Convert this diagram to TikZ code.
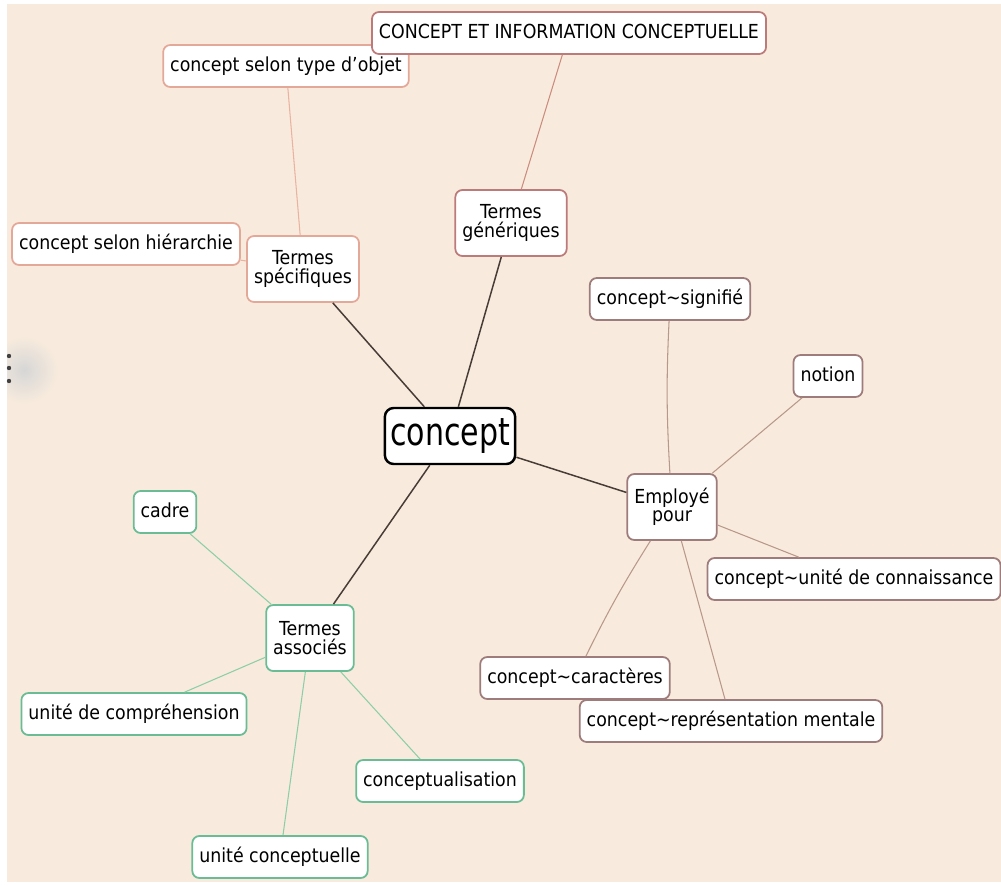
\documentclass[tikz,border=0pt]{standalone}
\usepackage{fontspec}
\usepackage{graphicx}
\setmainfont{DejaVu Sans Condensed}
\definecolor{bgpeach}{RGB}{248,235,221}
\definecolor{specdraw}{RGB}{228,168,152}
\definecolor{gendraw}{RGB}{188,122,122}
\definecolor{empdraw}{RGB}{158,124,124}
\definecolor{assocdraw}{RGB}{105,188,148}
\definecolor{speclink}{RGB}{234,178,160}
\definecolor{genlink}{RGB}{202,140,126}
\definecolor{emplink}{RGB}{184,152,138}
\definecolor{assoclink}{RGB}{140,206,168}
\definecolor{mainlink}{RGB}{72,60,54}
\begin{document}
\begin{tikzpicture}[x=0.02cm, y=-0.02cm,
    onebox/.style={draw, fill=white, rounded corners=4pt, line width=1pt,
      inner xsep=4pt, inner ysep=0pt, minimum height=0.84cm,
      text height=8.4pt, text depth=2.6pt, font=\fontsize{11}{10.5}\selectfont},
    twobox/.style={draw, fill=white, rounded corners=4pt, line width=1pt,
      inner xsep=4pt, inner ysep=0pt, minimum height=1.32cm, align=center,
      font=\fontsize{11}{10.5}\selectfont},
    spec/.style={draw=specdraw},
    gen/.style={draw=gendraw},
    emp/.style={draw=empdraw},
    assoc/.style={draw=assocdraw},
    mainline/.style={draw=mainlink, line width=0.85pt},
    thinline/.style={line width=0.6pt}]
    \useasboundingbox (0,0) rectangle (1001,886);
    \fill[white] (0,0) rectangle (1001,886);
    \fill[bgpeach] (7,4) rectangle (1001,882);

    % side handle
    \begin{scope}
        \clip (7,4) rectangle (1001,882);
        \shade[inner color=black!16, outer color=bgpeach] (24,370) circle (34);
    \end{scope}
    \fill[black!75] (9,356) circle (2.2);
    \fill[black!75] (9,368) circle (2.2);
    \fill[black!75] (9,381) circle (2.2);

    % centre
    \node[draw=black, fill=white, rounded corners=5pt, line width=1.4pt,
      inner xsep=3pt, inner ysep=0pt, minimum height=1.12cm,
      text height=16pt, text depth=5pt, font=\fontsize{19}{20}\selectfont] (concept) at (450,436) {\scalebox{1}[1.15]{concept}};

    % termes specifiques
    \node[twobox, spec] (tspec) at (303,269) {Termes\\spécifiques};
    \node[onebox, spec] (typobj) at (286,66) {concept selon type d'objet};
    \node[onebox, spec] (hierar) at (126,244) {concept selon hiérarchie};

    % termes generiques
    \node[twobox, gen] (tgen) at (511,223) {Termes\\génériques};
    \node[onebox, gen] (cinfo) at (569,33) {CONCEPT ET INFORMATION CONCEPTUELLE};

    % employe pour
    \node[twobox, emp] (empl) at (672,507) {Employé\\pour};
    \node[onebox, emp] (signif) at (670,299) {concept\textasciitilde signifié};
    \node[onebox, emp] (notion) at (828,376) {notion};
    \node[onebox, emp] (uconn) at (854,579) {concept\textasciitilde unité de connaissance};
    \node[onebox, emp] (caract) at (575,678) {concept\textasciitilde caractères};
    \node[onebox, emp] (repres) at (731,721) {concept\textasciitilde représentation mentale};

    % termes associes
    \node[twobox, assoc] (tassoc) at (310,638) {Termes\\associés};
    \node[onebox, assoc] (cadre) at (165,512) {cadre};
    \node[onebox, assoc] (ucomp) at (134,714) {unité de compréhension};
    \node[onebox, assoc] (ucept) at (280,857) {unité conceptuelle};
    \node[onebox, assoc] (cptlis) at (440,781) {conceptualisation};

    \draw[mainline] (concept) -- (tspec);
    \draw[mainline] (concept) -- (tgen);
    \draw[mainline] (concept) -- (empl);
    \draw[mainline] (concept) -- (tassoc);

    \draw[thinline, speclink] (tspec) -- (typobj);
    \draw[thinline, speclink] (tspec) -- (hierar);
    \draw[thinline, genlink] (tgen) -- (cinfo);

    \draw[thinline, emplink] (empl) to[bend left=3] (signif);
    \draw[thinline, emplink] (empl) -- (notion);
    \draw[thinline, emplink] (empl) -- (uconn);
    \draw[thinline, emplink] (empl) to[bend right=3] (caract);
    \draw[thinline, emplink] (empl) -- (repres);

    \draw[thinline, assoclink] (tassoc) -- (cadre);
    \draw[thinline, assoclink] (tassoc) -- (ucomp);
    \draw[thinline, assoclink] (tassoc) -- (ucept);
    \draw[thinline, assoclink] (tassoc) -- (cptlis);
\end{tikzpicture}
\end{document}
